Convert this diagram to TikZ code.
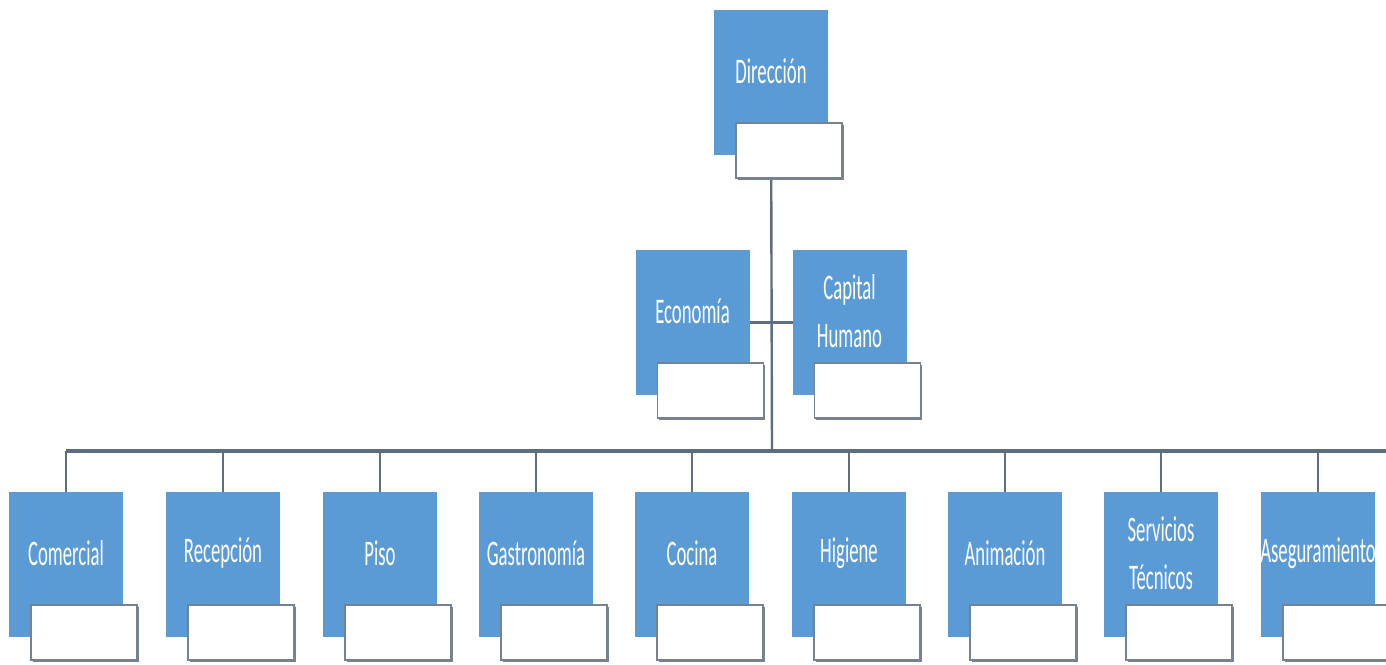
\documentclass[tikz,border=0pt]{standalone}
\usepackage{fontspec}
\newfontfamily\condfont[FakeStretch=0.52]{Carlito}
\usetikzlibrary{shadows}
\definecolor{boxblue}{HTML}{5B9BD5}
\definecolor{linec}{HTML}{5D6F7E}
\definecolor{edgec}{HTML}{76838E}
\tikzset{
  bluebox/.style={fill=boxblue, draw=none, minimum width=114pt, minimum height=145pt, inner sep=0pt, outer sep=0pt},
  boxtext/.style={text=white, font=\condfont\fontsize{36}{48}\selectfont, align=center, inner sep=0pt},
  whitebox/.style={fill=white, draw=edgec, line width=1.5pt, minimum width=106pt, minimum height=55pt, inner sep=0pt,
     drop shadow={shadow xshift=2pt, shadow yshift=-2.4pt, fill=edgec, opacity=1}},
  conn/.style={draw=linec, line width=2.4pt},
  busline/.style={draw=linec, line width=4pt}
}
\newcommand\orgbox[4]{%
  \node[bluebox, anchor=north] (#1) at (#2,#3) {};
  \node[boxtext] (#1t) at ([yshift=11pt]#1.center) {#4};
  \node[whitebox, anchor=north west] (#1w) at ([xshift=21pt,yshift=-112pt]#1.north west) {};
}
\begin{document}
\begin{tikzpicture}[x=1pt,y=-1pt]
\useasboundingbox[fill=white] (0,0) rectangle (1386,664);
% connectors first (behind boxes)
\coordinate (bus) at (772,451);
\coordinate (busend) at (1386,451);
\coordinate (dirx) at (771,100);
\coordinate (comx) at (66,451);
\draw[conn] (dirx) -- (bus);
\draw[busline] (comx) -- (busend);
\orgbox{dir}{771}{10}{Dirección}
\orgbox{eco}{692.5}{250}{Economía}
\orgbox{cap}{849.5}{250}{Capital\\Humano}
\draw[conn] (eco.east) -- (cap.west);
\orgbox{com}{66}{492}{Comercial}
\orgbox{rec}{223}{492}{Recepción}
\orgbox{pis}{380}{492}{Piso}
\orgbox{gas}{536}{492}{Gastronomía}
\orgbox{coc}{692}{492}{Cocina}
\orgbox{hig}{849}{492}{Higiene}
\orgbox{ani}{1005}{492}{Animación}
\orgbox{ser}{1161}{492}{Servicios\\Técnicos}
\orgbox{ase}{1318}{492}{Aseguramiento}
\foreach \n in {com,rec,pis,gas,coc,hig,ani,ser,ase}{
  \draw[conn, line width=2pt] (\n.north |- bus) -- (\n.north);
}
\end{tikzpicture}
\end{document}
